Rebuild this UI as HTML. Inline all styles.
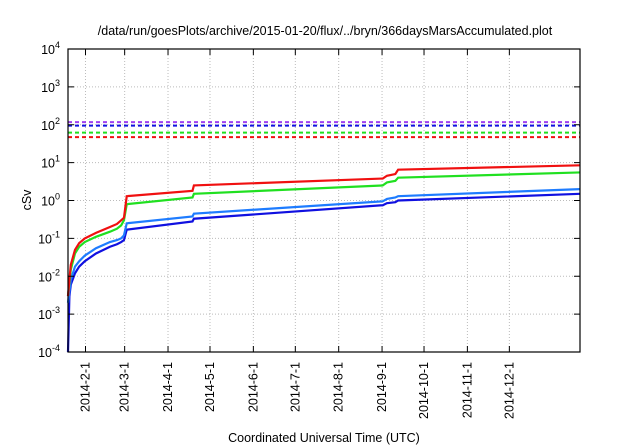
<!DOCTYPE html>
<html><head><meta charset="utf-8"><style>
html,body{margin:0;padding:0;background:#fff;}
svg{display:block;font-family:"Liberation Sans",sans-serif;}
</style></head><body>
<svg id="chart" width="640" height="448">
<text x="325" y="35" font-size="12.5" text-anchor="middle">/data/run/goesPlots/archive/2015-01-20/flux/../bryn/366daysMarsAccumulated.plot</text>
<text transform="translate(31,200) rotate(-90)" font-size="12.5" text-anchor="middle">cSv</text>
<text x="324" y="442" font-size="12.5" text-anchor="middle">Coordinated Universal Time (UTC)</text>
<g id="grid"></g><g id="series"></g><g id="axes"></g>
</svg>
<script>
const days=[0,1,2,5,8,12,20,30,35,38,40,42,89,90,225,228,234,236,366];
const redVals=[0.003,0.008,0.02,0.05,0.075,0.1,0.14,0.2,0.24,0.3,0.35,1.3,1.8,2.5,3.8,4.5,5,6.5,8.5];
const greenVals=[0.003,0.007,0.015,0.04,0.06,0.08,0.11,0.15,0.18,0.22,0.3,0.8,1.2,1.5,2.5,3,3.3,4,5.5];
const lblueVals=[0.002,0.004,0.008,0.018,0.025,0.035,0.055,0.08,0.09,0.1,0.12,0.25,0.38,0.45,0.95,1.1,1.2,1.3,2.0];
const dblueVals=[0.0001,0.003,0.006,0.012,0.018,0.025,0.04,0.06,0.07,0.08,0.09,0.17,0.28,0.33,0.75,0.85,0.9,1.0,1.5];
const limitVals=[117,95,62,47];
const limitColors=["#a040f0","#1010e0","#20e020","#f01010"];
const xTickLabels=["2014-2-1","2014-3-1","2014-4-1","2014-5-1","2014-6-1","2014-7-1","2014-8-1","2014-9-1","2014-10-1","2014-11-1","2014-12-1"];
const xTickDays=[12.5,40.5,71.5,101.5,132.5,162.5,193.5,224.5,254.5,285.5,315.5];
const yExps=[-4,-3,-2,-1,0,1,2,3,4];
const L=68,R=580,T=49,B=352,D0=0,D1=366;
const xs=d=>L+(d-D0)/(D1-D0)*(R-L);
const ys=v=>B-(Math.log10(v)+4)/8*(B-T);
const NS="http://www.w3.org/2000/svg";
function mk(tag,attrs,parent){const e=document.createElementNS(NS,tag);for(const k in attrs)e.setAttribute(k,attrs[k]);parent.appendChild(e);return e;}
const grid=document.getElementById('grid'),ser=document.getElementById('series'),ax=document.getElementById('axes');
yExps.forEach(p=>{const y=ys(Math.pow(10,p));
 if(p>-4&&p<4){const g=mk('line',{x1:L,x2:R,y1:y,y2:y,stroke:'#bbb','stroke-dasharray':'1,2','stroke-width':1},grid);
 
 }
 mk('line',{x1:L,x2:L+6,y1:y,y2:y,stroke:'#000'},ax);mk('line',{x1:R,x2:R-6,y1:y,y2:y,stroke:'#000'},ax);
 const t=mk('text',{x:L-8,y:y+5,'font-size':12.5,'text-anchor':'end'},ax);
 
 
 t.innerHTML='10<tspan dy="-6" font-size="9">'+p+'</tspan>';});
xTickDays.forEach((d,i)=>{const x=xs(d);
 const g=mk('line',{x1:x,x2:x,y1:T,y2:B,stroke:'#bbb','stroke-dasharray':'1,2'},grid);
 
 
 mk('line',{x1:x,x2:x,y1:B,y2:B-6,stroke:'#000'},ax);mk('line',{x1:x,x2:x,y1:T,y2:T+6,stroke:'#000'},ax);
 const t=mk('text',{transform:`translate(${x+4},362) rotate(-90)`,'font-size':12.5,'text-anchor':'end'},ax);
 
 
 t.textContent=xTickLabels[i];});
limitVals.forEach((v,i)=>{const l=mk('line',{x1:L,x2:R,y1:ys(v),y2:ys(v),stroke:limitColors[i],'stroke-width':2,'stroke-dasharray':'4,3'},ser);
 
 });
[[dblueVals,'#1010e0','dark-blue-series'],[lblueVals,'#1e7cff','light-blue-series'],[greenVals,'#20e020','green-series'],[redVals,'#f01010','red-series']].forEach(([vals,c,n])=>{
 const p=mk('polyline',{points:vals.map((v,i)=>xs(days[i])+','+ys(v)).join(' '),fill:'none',stroke:c,'stroke-width':2.2},ser);
 
 });
const f=mk('rect',{x:L,y:T,width:R-L,height:B-T,fill:'none',stroke:'#000','stroke-width':1.2},ax);


</script>
</body></html>
